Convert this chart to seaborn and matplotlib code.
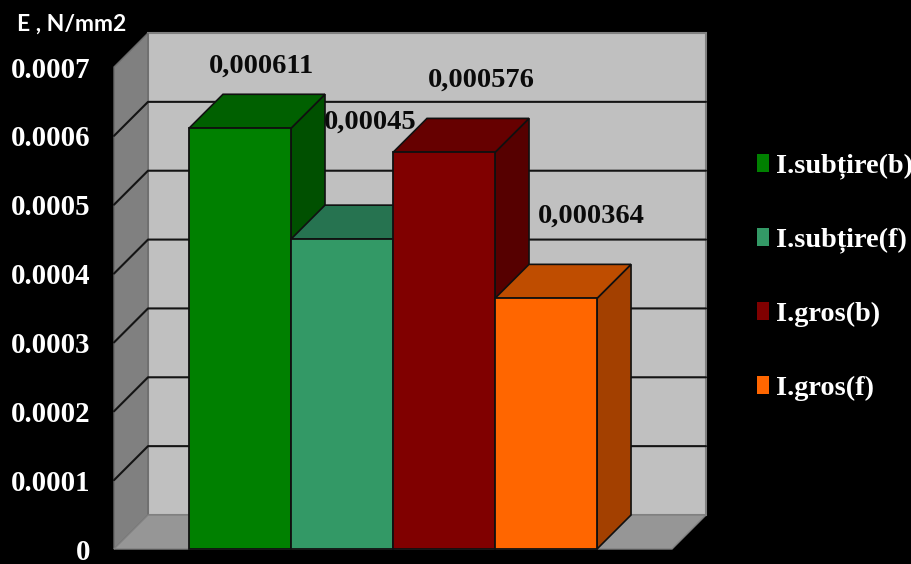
import matplotlib
matplotlib.use("Agg")
import matplotlib.pyplot as plt
from matplotlib.patches import Polygon, Rectangle
import pandas as pd
import seaborn as sns

categories = ["I.subțire(b)", "I.subțire(f)", "I.gros(b)", "I.gros(f)"]
values = [0.000611, 0.00045, 0.000576, 0.000364]
value_labels = ["0,000611", "0,00045", "0,000576", "0,000364"]
front_colors = ["#008000", "#339966", "#800000", "#FF6600"]
top_colors = ["#006000", "#267350", "#660000", "#BF4D00"]
side_colors = ["#005000", "#205F43", "#560000", "#A34000"]
y_ticks = [0, 0.0001, 0.0002, 0.0003, 0.0004, 0.0005, 0.0006, 0.0007]
y_ticklabels = ["0", "0.0001", "0.0002", "0.0003", "0.0004", "0.0005", "0.0006", "0.0007"]
y_title = "E , N/mm2"
label_offsets_px = [(21.5, 62), (28.5, 117), (37.5, 72), (45, 82)]

W, H = 912, 564
SERIF = "Liberation Serif"

sns.set_theme(style="white")
fig = plt.figure(figsize=(W / 100, H / 100), dpi=100, facecolor="black")
ax = fig.add_axes([114 / W, (H - 549) / H, (672 - 114) / W, (549 - 67) / H])
ax.patch.set_visible(False)

df = pd.DataFrame({"cat": categories, "val": values})
sns.barplot(data=df, x="cat", y="val", hue="cat", hue_order=categories,
            palette=front_colors, saturation=1, width=1.0, dodge=False, legend=True,
            edgecolor="#101010", linewidth=1.3, ax=ax)

ax.set_xlim(-1.235, 4.235)
ax.set_ylim(0, 0.0007)
ax.set_xlabel("")
ax.set_ylabel("")
ax.set_xticks([])
ax.set_yticks(y_ticks)
ax.set_yticklabels(y_ticklabels, family=SERIF, weight="bold", size=20.8, color="white")
ax.tick_params(axis="y", length=0, pad=17.2)
for s in ax.spines.values():
    s.set_visible(False)

# 3D depth expressed in data units
dx = 34 / 102
dy = 34 / (482 / 0.0007)
x0, x1 = ax.get_xlim()
y0, y1 = ax.get_ylim()


def poly(points, fc, ec, lw, z):
    ax.add_patch(Polygon(points, closed=True, facecolor=fc, edgecolor=ec,
                         linewidth=lw, zorder=z, clip_on=False))


# walls and floor
poly([(x0 + dx, y0 + dy), (x1 + dx, y0 + dy), (x1 + dx, y1 + dy), (x0 + dx, y1 + dy)],
     "#C0C0C0", "#808080", 1.5, 0.5)
poly([(x0, y0), (x0 + dx, y0 + dy), (x0 + dx, y1 + dy), (x0, y1)],
     "#808080", "#6A6A6A", 1.0, 0.6)
poly([(x0, y0), (x1, y0), (x1 + dx, y0 + dy), (x0 + dx, y0 + dy)],
     "#969696", "#808080", 1.0, 0.6)

# gridlines on back and side walls
for t in y_ticks[1:-1]:
    ax.plot([x0, x0 + dx, x1 + dx], [t, t + dy, t + dy], color="#141414",
            lw=1.5, zorder=0.8, clip_on=False)

# bars with depth faces
for i, container in enumerate(ax.containers):
    bar = container[0]
    z = 2 + i
    left, right = bar.get_x(), bar.get_x() + bar.get_width()
    top = bar.get_height()
    bar.set_zorder(z + 0.2)
    bar.set_clip_on(False)
    poly([(right, 0), (right + dx, dy), (right + dx, top + dy), (right, top)],
         side_colors[i], "#101010", 1.2, z)
    poly([(left, top), (right, top), (right + dx, top + dy), (left + dx, top + dy)],
         top_colors[i], "#101010", 1.2, z + 0.1)
    ox, oy = label_offsets_px[i]
    ax.annotate(value_labels[i], xy=((left + right) / 2, top),
                xytext=(ox * 0.72, oy * 0.72), textcoords="offset points",
                ha="center", va="center", family=SERIF, weight="bold",
                size=20.5, color="#0A0A0A", zorder=20, annotation_clip=False)

# legend
handles, labels = ax.get_legend_handles_labels()
handles = [Rectangle((0, 0), 1, 1, facecolor=c, edgecolor="none") for c in front_colors]
leg = ax.legend(handles, labels, loc="center left",
                bbox_to_anchor=(757 / W, (H - 277) / H),
                bbox_transform=fig.transFigure, frameon=False,
                prop={"family": SERIF, "weight": "bold", "size": 20.3},
                labelcolor="white", handlelength=0.43, handleheight=0.6,
                handletextpad=0.25, labelspacing=1.72, borderpad=0, borderaxespad=0)

fig.text(72 / W, (H - 24) / H, y_title, color="white", ha="center", va="center",
         family="Lato", weight="bold", size=16.5)

fig.savefig("out.png", dpi=100, facecolor="black")
